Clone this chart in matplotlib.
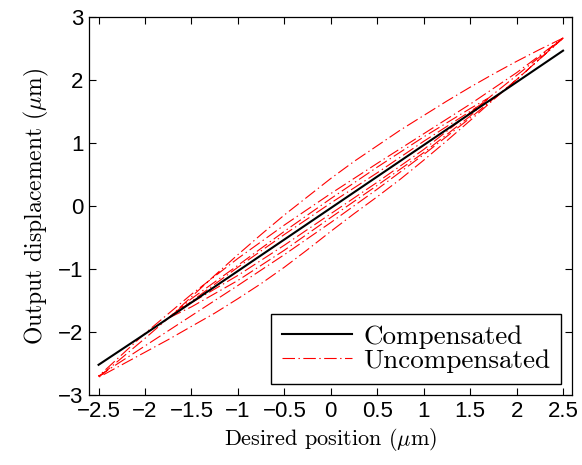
import matplotlib
matplotlib.use("Agg")
import matplotlib.pyplot as plt

# ---- data ----
comp_x = [-2.5, -2.0, -1.5, -1.0, -0.5, 0.0, 0.5, 1.0, 1.5, 2.0, 2.5]
comp_y = [-2.52, -2.03, -1.53, -1.03, -0.53, -0.03, 0.47, 0.97, 1.47, 1.97, 2.47]

# uncompensated hysteresis branches (x, y)
descA_x = [2.5, 2.25, 2.0, 1.75, 1.5, 1.25, 1.0, 0.75, 0.5, 0.25, 0.0,
           -0.25, -0.5, -0.75, -1.0, -1.25, -1.5, -1.75, -2.0, -2.25, -2.5]
descA_y = [2.67, 2.49, 2.30, 2.10, 1.89, 1.67, 1.44, 1.21, 0.96, 0.71, 0.44,
           0.15, -0.14, -0.45, -0.77, -1.10, -1.44, -1.78, -2.10, -2.41, -2.72]
ascA_x = [-2.5, -2.25, -2.0, -1.75, -1.5, -1.25, -1.0, -0.75, -0.5, -0.25, 0.0,
          0.25, 0.5, 0.75, 1.0, 1.25, 1.5, 1.75, 2.0, 2.25, 2.5]
ascA_y = [-2.72, -2.52, -2.32, -2.12, -1.91, -1.70, -1.47, -1.23, -0.97, -0.69, -0.40,
          -0.12, 0.15, 0.43, 0.73, 1.04, 1.36, 1.69, 2.01, 2.34, 2.67]
descB_x = [2.5, 2.0, 1.5, 1.0, 0.5, 0.0, -0.5, -1.0, -1.5, -2.0, -2.5]
descB_y = [2.67, 2.12, 1.62, 1.15, 0.68, 0.20, -0.30, -0.83, -1.40, -2.02, -2.70]
ascB_x = [-2.5, -2.0, -1.5, -1.0, -0.5, 0.0, 0.5, 1.0, 1.5, 2.0, 2.5]
ascB_y = [-2.70, -2.22, -1.74, -1.26, -0.77, -0.26, 0.27, 0.82, 1.40, 2.01, 2.67]
descC_x = [1.7, 1.5, 1.0, 0.5, 0.0, -0.5, -1.0, -1.5, -1.75]
descC_y = [1.72, 1.55, 1.10, 0.62, 0.12, -0.40, -0.94, -1.47, -1.78]
ascC_x = [-1.75, -1.5, -1.0, -0.5, 0.0, 0.5, 1.0, 1.5, 1.7]
ascC_y = [-1.78, -1.60, -1.18, -0.70, -0.18, 0.33, 0.85, 1.43, 1.72]
descD_x = [1.6, 1.0, 0.5, 0.0, -0.5, -1.0, -1.6]
descD_y = [1.60, 1.03, 0.53, 0.05, -0.45, -0.97, -1.62]
ascD_x = [-1.6, -1.0, -0.5, 0.0, 0.5, 1.0, 1.6]
ascD_y = [-1.62, -1.10, -0.62, -0.12, 0.38, 0.90, 1.60]

unc_x = descA_x + ascA_x + descB_x + ascB_x + descC_x + ascC_x + descD_x + ascD_x
unc_y = descA_y + ascA_y + descB_y + ascB_y + descC_y + ascC_y + descD_y + ascD_y

x_ticks = [-2.5, -2, -1.5, -1, -0.5, 0, 0.5, 1, 1.5, 2, 2.5]
x_ticklabels = ["\u22122.5", "\u22122", "\u22121.5", "\u22121", "\u22120.5", "0", "0.5", "1", "1.5", "2", "2.5"]
y_ticks = [-3, -2, -1, 0, 1, 2, 3]
y_ticklabels = ["\u22123", "\u22122", "\u22121", "0", "1", "2", "3"]

plt.rcParams['mathtext.fontset'] = 'cm'
plt.rcParams['lines.scale_dashes'] = False

fig = plt.figure(figsize=(5.82, 4.65), dpi=100)
ax = fig.add_axes([0.1534, 0.1505, 0.83, 0.8123])

ax.plot(comp_x, comp_y, color='black', lw=1.5, label='Compensated', zorder=3)
line_u, = ax.plot(unc_x, unc_y, color='red', lw=0.8, label='Uncompensated', zorder=2)
line_u.set_dashes((9, 2.5, 1, 2.5))

ax.set_xlim(-2.6, 2.6)
ax.set_ylim(-3, 3)
ax.set_xticks(x_ticks)
ax.set_xticklabels(x_ticklabels, fontfamily='Liberation Sans', fontsize=16)
ax.set_yticks(y_ticks)
ax.set_yticklabels(y_ticklabels, fontfamily='Liberation Sans', fontsize=16)
ax.tick_params(direction='in', top=True, right=True, length=5, width=0.8, pad=4)
for s in ax.spines.values():
    s.set_linewidth(0.9)

ax.set_xlabel(r'Desired position ($\mu$m)', fontfamily='cmr10', fontsize=16, labelpad=3)
ax.set_ylabel(r'Output displacement ($\mu$m)', fontfamily='cmr10', fontsize=17, labelpad=5)

leg = ax.legend(loc='lower right', prop={'family': 'cmr10', 'size': 19.5},
                frameon=True, fancybox=False, edgecolor='black', framealpha=1,
                handlelength=2.6, borderpad=0.4, labelspacing=0.0,
                borderaxespad=0.42, handletextpad=0.4)
leg.get_frame().set_linewidth(1.0)

fig.savefig('out.png', dpi=100)
